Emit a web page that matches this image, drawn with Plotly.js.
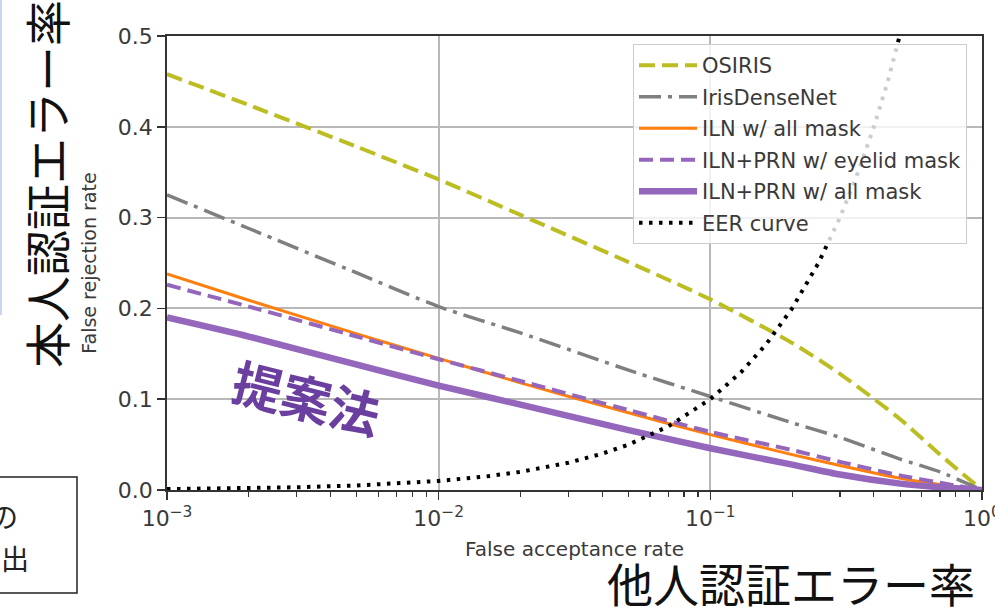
<!DOCTYPE html>
<html>
<head>
<meta charset="utf-8">
<script src="https://cdn.plot.ly/plotly-3.0.1.min.js"></script>
<style>
  html, body { margin: 0; padding: 0; background: #ffffff; }
  #chart { width: 995px; height: 612px; }
</style>
</head>
<body>
<div id="chart"></div>
<script>
// False acceptance rate sample points (x axis, log scale)
const far = [0.001, 0.002, 0.005, 0.01, 0.02, 0.05, 0.1, 0.2, 0.3, 0.5, 0.7, 1.0];

// False rejection rate per method
const osiris       = [0.458, 0.424, 0.378, 0.342, 0.303, 0.251, 0.210, 0.162, 0.128, 0.078, 0.039, 0.000];
const irisDenseNet = [0.325, 0.288, 0.239, 0.202, 0.173, 0.132, 0.103, 0.074, 0.058, 0.034, 0.020, 0.000];
const ilnAll       = [0.238, 0.209, 0.172, 0.145, 0.118, 0.085, 0.061, 0.039, 0.027, 0.013, 0.006, 0.000];
const ilnPrnEyelid = [0.226, 0.202, 0.169, 0.144, 0.120, 0.088, 0.064, 0.044, 0.031, 0.016, 0.008, 0.000];
const ilnPrnAll    = [0.190, 0.169, 0.138, 0.115, 0.094, 0.066, 0.046, 0.028, 0.017, 0.007, 0.003, 0.000];

// EER curve (FRR equals FAR)
const eerFar = [0.001, 0.0015, 0.002, 0.003, 0.005, 0.007, 0.01, 0.015, 0.02, 0.03, 0.04, 0.05, 0.07, 0.1, 0.13, 0.16, 0.2, 0.25, 0.3, 0.35, 0.4, 0.45, 0.5, 0.55];
const eerFrr = [0.001, 0.0015, 0.002, 0.003, 0.005, 0.007, 0.01, 0.015, 0.02, 0.03, 0.04, 0.05, 0.07, 0.1, 0.13, 0.16, 0.2, 0.25, 0.3, 0.35, 0.4, 0.45, 0.5, 0.55];

const seriesNames = ["OSIRIS", "IrisDenseNet", "ILN w/ all mask", "ILN+PRN w/ eyelid mask", "ILN+PRN w/ all mask", "EER curve"];
const yTicks = [0.0, 0.1, 0.2, 0.3, 0.4, 0.5];
const yTickText = ["0.0", "0.1", "0.2", "0.3", "0.4", "0.5"];
const xTicks = [0.001, 0.01, 0.1, 1];
const xTickText = ["10<sup>−3</sup>", "10<sup>−2</sup>", "10<sup>−1</sup>", "10<sup>0</sup>"];

const FONT = "DejaVu Sans, sans-serif";
const JP = "Noto Sans CJK JP, sans-serif";

function tr(name, x, y, color, width, dash, group) {
  return {
    type: "scatter", mode: "lines", name: name, x: x, y: y,
    legendgroup: group,
    line: { color: color, width: width, dash: dash, shape: "spline", smoothing: 0.6 },
    hoverinfo: "skip"
  };
}

const data = [
  tr(seriesNames[0], far, osiris, "#bcbd22", 4, "16px,7px", "g1"),
  tr(seriesNames[1], far, irisDenseNet, "#7f7f7f", 3.5, "22px,7px,4px,7px", "g2"),
  tr(seriesNames[2], far, ilnAll, "#ff7f0e", 3, "solid", "g3"),
  tr(seriesNames[3], far, ilnPrnEyelid, "#9467bd", 4, "14px,7px", "g4"),
  tr(seriesNames[4], far, ilnPrnAll, "#9467bd", 6.5, "solid", "g5"),
  { type: "scatter", mode: "lines", name: seriesNames[5], x: eerFar, y: eerFrr, legendgroup: "g6",
    line: { color: "#000000", width: 4, dash: "3.5px,6.5px" }, hoverinfo: "skip" }
];

// pixel -> paper helpers for slide decorations
const L = 167, R = 982, T = 36, B = 490;
const px = v => (v - L) / (R - L);
const py = v => (B - v) / (B - T);

function note(x, y, text, size, color, angle) {
  return { xref: "paper", yref: "paper", x: px(x), y: py(y), text: text, textangle: angle || 0,
    xanchor: "center", yanchor: "middle", showarrow: false,
    font: { family: JP, size: size, color: color } };
}

const layout = {
  width: 995, height: 612,
  margin: { l: L, r: 995 - R, t: T, b: 612 - B },
  paper_bgcolor: "#ffffff", plot_bgcolor: "#ffffff",
  showlegend: true,
  font: { family: FONT, color: "#3a3a3a" },
  xaxis: {
    type: "log", range: [-3, 0], tickvals: xTicks, ticktext: xTickText,
    ticklabeloverflow: "allow",
    showgrid: true, gridcolor: "#b8b8b8", gridwidth: 1.8,
    showline: true, linecolor: "#333333", linewidth: 1.8, mirror: true,
    ticks: "outside", ticklen: 8, tickwidth: 1.5, tickcolor: "#333333",
    tickfont: { family: FONT, size: 22, color: "#3a3a3a" },
    minor: { ticks: "outside", ticklen: 5, tickwidth: 1.2, tickcolor: "#333333", dtick: "D1", showgrid: false },
    title: { text: "False acceptance rate", font: { family: FONT, size: 20, color: "#3a3a3a" }, standoff: 12 },
    zeroline: false, automargin: false
  },
  yaxis: {
    range: [0, 0.5], tickvals: yTicks, ticktext: yTickText,
    showgrid: true, gridcolor: "#b8b8b8", gridwidth: 1.8,
    showline: true, linecolor: "#333333", linewidth: 1.8, mirror: true,
    ticks: "outside", ticklen: 8, tickwidth: 1.5, tickcolor: "#333333",
    tickfont: { family: FONT, size: 22, color: "#3a3a3a" },
    title: { text: "False rejection rate", font: { family: FONT, size: 19, color: "#3a3a3a" }, standoff: 16 },
    zeroline: false, automargin: false
  },
  legend: {
    x: px(633), y: py(44), xanchor: "left", yanchor: "top",
    bgcolor: "rgba(255,255,255,0.8)", bordercolor: "#cccccc", borderwidth: 1,
    font: { family: FONT, size: 21, color: "#3a3a3a" },
    tracegroupgap: 1.2, itemwidth: 58
  },
  shapes: [
    { type: "rect", xref: "paper", yref: "paper", x0: px(-10), x1: px(2), y0: py(315), y1: py(-5),
      fillcolor: "#c9d8f0", line: { width: 0 }, layer: "below" },
    { type: "rect", xref: "paper", yref: "paper", x0: px(-10), x1: px(77), y0: py(593), y1: py(477),
      fillcolor: "rgba(0,0,0,0)", line: { color: "#222222", width: 1.5 } }
  ],
  annotations: [
    note(45, 184, "本人認証エラー率", 46, "#111111", -90),
    note(791, 582, "他人認証エラー率", 46, "#111111", 0),
    note(307, 396, "<b>提案法</b>", 50, "#6b3fa0", 14),
    note(4, 516, "の", 28, "#222222", 0),
    note(15, 558, "出", 28, "#222222", 0)
  ]
};

Plotly.newPlot("chart", data, layout, { staticPlot: true, displayModeBar: false });
</script>
</body>
</html>
